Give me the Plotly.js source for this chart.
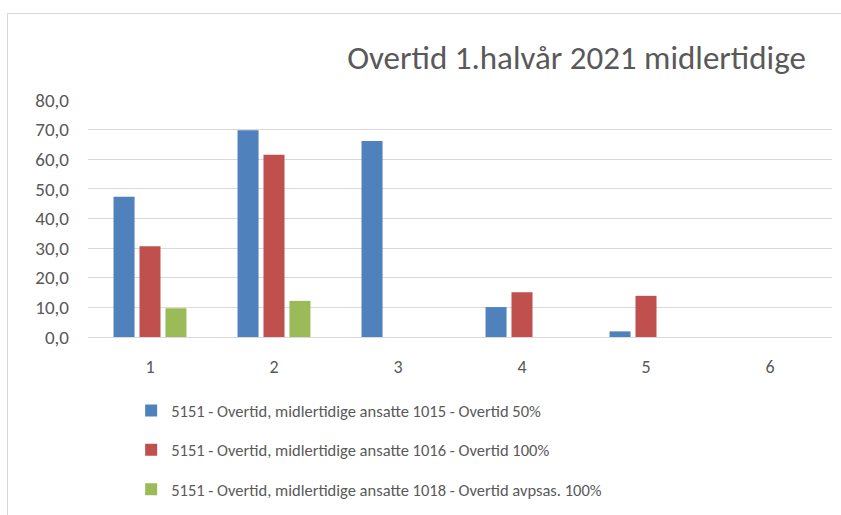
<!DOCTYPE html>
<html>
<head>
<meta charset="utf-8">
<script src="https://cdn.plot.ly/plotly-3.0.1.min.js"></script>
<style>
html,body{margin:0;padding:0;background:#fff;}
#wrap{position:relative;width:841px;height:515px;overflow:hidden;}
#frame{position:absolute;left:7px;top:13px;width:845px;height:520px;border:1px solid #d9d9d9;box-sizing:border-box;pointer-events:none;}
#chart{position:absolute;left:0;top:0;width:841px;height:515px;}
</style>
</head>
<body>
<div id="wrap">
<div id="chart"></div>
<div id="frame"></div>
</div>
<script>
const categories = ["1", "2", "3", "4", "5", "6"];
const seriesNames = [
  "5151 - Overtid, midlertidige ansatte 1015 - Overtid 50%",
  "5151 - Overtid, midlertidige ansatte 1016 - Overtid 100%",
  "5151 - Overtid, midlertidige ansatte 1018 - Overtid avpsas. 100%"
];
const overtid50 = [47.3, 69.8, 66.2, 10.1, 1.9, null];
const overtid100 = [30.6, 61.5, null, 15.1, 13.9, null];
const overtidAvpsas100 = [9.7, 12.2, null, null, null, null];
const yTicks = [0, 10, 20, 30, 40, 50, 60, 70, 80];
const titleText = "Overtid 1.halvår 2021 midlertidige";

const colors = ["#4f81bd", "#c0504d", "#9bbb59"];
const font = "Carlito, Calibri, 'Liberation Sans Narrow', 'Open Sans', sans-serif";
const values = [overtid50, overtid100, overtidAvpsas100];

const traces = values.map((v, i) => ({
  type: "bar",
  x: categories,
  y: v,
  name: seriesNames[i],
  legendgroup: "g" + i,
  marker: {color: colors[i], line: {color: colors[i], width: 0}},
  hoverinfo: "x+y+name"
}));

const layout = {
  width: 841,
  height: 515,
  paper_bgcolor: "rgba(0,0,0,0)",
  plot_bgcolor: "rgba(0,0,0,0)",
  margin: {l: 88, r: 9, t: 100, b: 178, autoexpand: false},
  separators: ",.",
  title: {
    text: titleText,
    font: {family: font, size: 33, color: "#595959"},
    x: 0.6855, xanchor: "center",
    y: 0.889, yanchor: "middle"
  },
  barmode: "group",
  bargap: 0.372,
  bargroupgap: 0.19,
  showlegend: true,
  legend: {
    orientation: "v",
    x: 0.058, xanchor: "left",
    y: -0.237, yanchor: "top",
    font: {family: font, size: 16.5, color: "#595959"},
    tracegroupgap: 15,
    itemwidth: 30,
    bgcolor: "rgba(0,0,0,0)"
  },
  xaxis: {
    type: "category",
    tickfont: {family: font, size: 18, color: "#595959"},
    showgrid: false,
    showline: false,
    zeroline: false,
    ticks: "",
    ticklabelstandoff: 17
  },
  yaxis: {
    range: [0, 80],
    tickvals: yTicks,
    tickformat: ".1f",
    tickfont: {family: font, size: 19, color: "#595959"},
    showgrid: true,
    gridcolor: "#d9d9d9",
    gridwidth: 1,
    zeroline: true,
    zerolinecolor: "#d9d9d9",
    zerolinewidth: 1,
    showline: false,
    ticks: "",
    ticklabelstandoff: 18,
    fixedrange: true
  }
};

Plotly.newPlot("chart", traces, layout, {displayModeBar: false});
</script>
</body>
</html>
